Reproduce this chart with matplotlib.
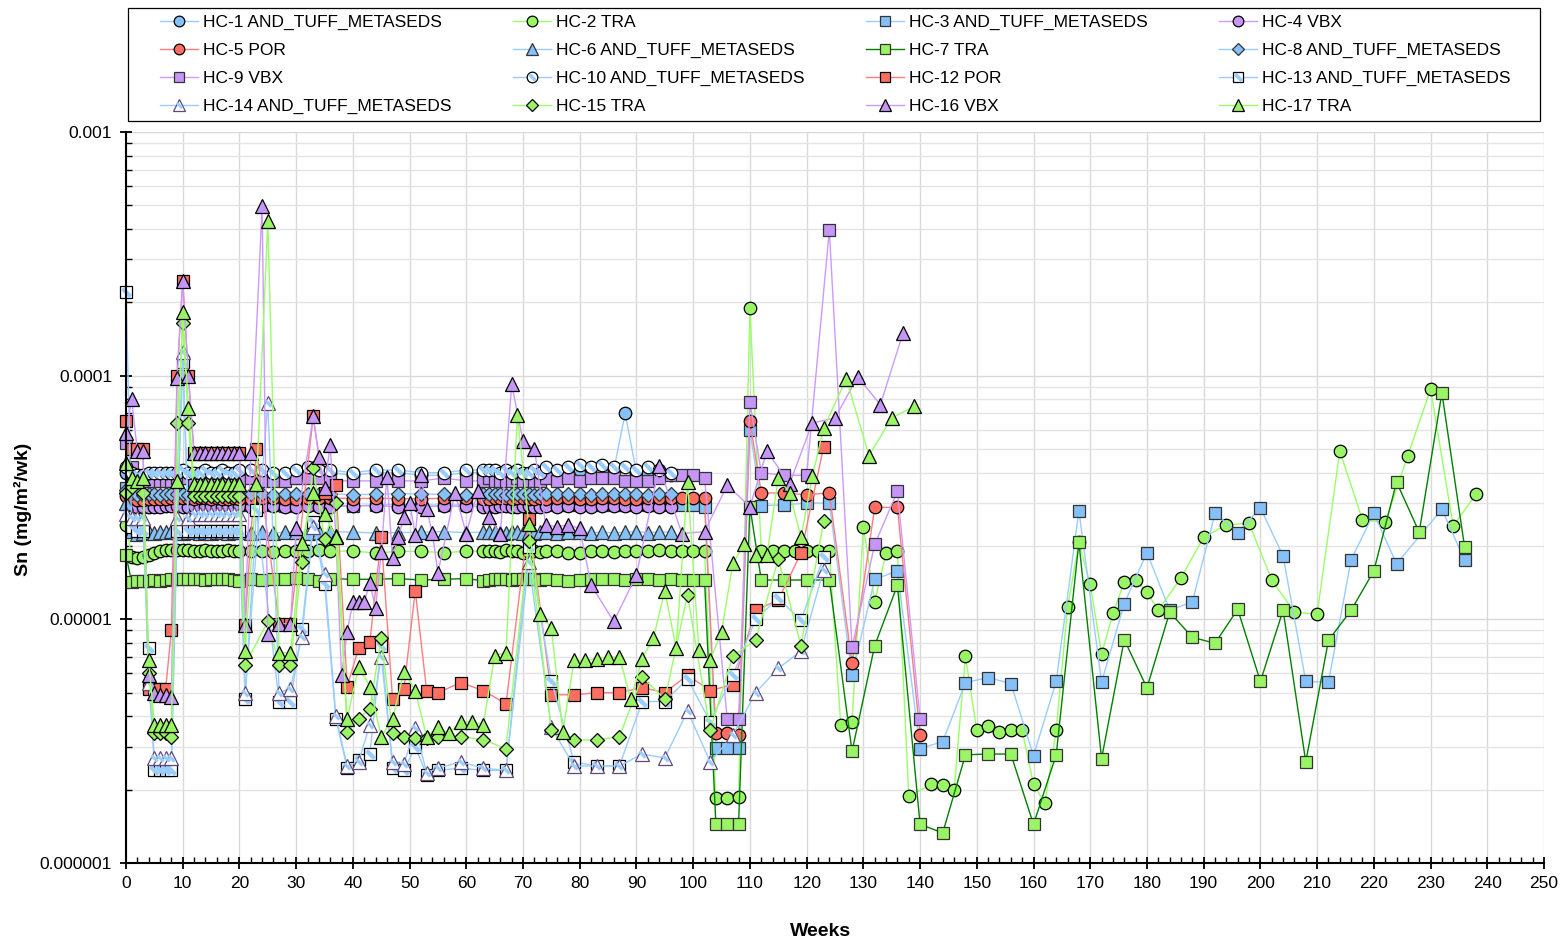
import numpy as np
import matplotlib
matplotlib.use('Agg')
import matplotlib.pyplot as plt
from matplotlib.path import Path
from matplotlib.patches import Rectangle
from matplotlib.ticker import LogLocator, NullFormatter, FuncFormatter, MultipleLocator

plt.rcParams['font.family'] = ['Liberation Sans', 'DejaVu Sans']

# ---- data (Sn flux, in units of 1e-6 mg/m2/wk) ----
weeks_early = [0, 1, 2, 3, 4, 5, 6, 7, 8, 9, 10, 11, 12, 13, 14, 15, 16, 17, 18, 19, 20,
               22, 24, 26, 28, 30, 32, 34, 36, 40, 44, 48, 52, 56, 60,
               63, 64, 65, 66, 67, 68, 69, 70, 71, 72, 73, 74,
               76, 78, 80, 82, 84, 86, 88, 90, 92, 94, 96]

hc1 = [40, 39, 39, 38, 39, 39, 39, 39, 39, 40, 40, 39, 39, 40, 40, 39, 40, 40, 39, 40,
       40, 40, 40, 39, 39, 40, 41, 40, 40, 39, 40, 40, 39, 39, 40, 40, 40, 40, 39, 40,
       39, 40, 39, 39, 40, 39, 41, 39, 40, 41, 41, 41, 41, 70, 40, 40, 40, 39]
hc10 = [42, 40, 39, 39, 40, 40, 40, 40, 40, 40, 41, 40, 40, 40, 41, 40, 40, 41, 40, 40,
        41, 41, 41, 40, 40, 41, 42, 41, 41, 40, 41, 41, 40, 40, 41, 41, 41, 41, 40, 41,
        40, 41, 40, 40, 41, 40, 42, 41, 42, 43, 42, 43, 42, 42, 41, 42, 41, 40]
hc4 = [33, 29.5, 29, 29, 29, 29, 29, 29.2, 29.3, 29.2, 29, 29, 29.2, 29, 29, 29.1, 29, 29, 29.2, 29,
       29.1, 29, 29.2, 29.3, 29, 29, 29.1, 29, 29, 29.2, 29.3, 29, 29, 29.2, 29.1, 29, 29, 29, 29.2, 29.3,
       29, 29, 29.1, 29.2, 29, 29, 29.1, 29, 29.2, 29, 29, 29.1, 29.3, 29.1, 29, 29.2, 29, 29]
hc6 = [30, 23, 22.5, 22.6, 22.8, 22.7, 22.8, 22.9, 23, 22.8, 22.7, 22.8, 22.9, 22.7, 22.8, 22.6, 22.8, 22.9, 22.7, 22.8,
       22.9, 22.7, 22.8, 22.6, 22.8, 22.9, 22.7, 22.8, 22.9, 22.8, 22.6, 22.7, 22.8, 22.9, 22.7, 22.8, 22.9, 22.8, 22.7, 22.6,
       22.8, 22.9, 22.7, 22.8, 22.6, 22.8, 22.9, 22.7, 22.8, 22.9, 22.7, 22.8, 22.6, 22.8, 22.9, 22.7, 22.8, 22.8]
hc8 = [34, 33, 32.5, 32.4, 32.6, 32.7, 32.5, 32.6, 32.8, 32.7, 32.6, 32.5, 32.6, 32.7, 32.8, 32.6, 32.5, 32.7, 32.6, 32.8,
       32.7, 32.6, 32.8, 32.5, 32.6, 32.7, 32.6, 32.8, 32.7, 32.5, 32.6, 32.8, 32.7, 32.6, 32.5, 32.7, 32.8, 32.6, 32.7, 32.5,
       32.6, 32.8, 32.7, 32.6, 32.5, 32.7, 32.6, 32.8, 32.7, 32.6, 32.5, 32.7, 32.8, 32.6, 32.7, 32.5, 32.6, 32.7]

# series that carry on past week 96
hc2 = [24.4, 18.0, 17.8, 18.1, 18.3, 18.7, 19.0, 19.2, 19.2, 19.3, 19.3, 19.2, 19.1, 19.1, 19.2, 19.1, 19.0, 19.1, 19.2, 19.1,
       19.0, 19.1, 19.0, 18.9, 19.0, 19.1, 19.0, 19.2, 19.0, 19.1, 18.7, 19.0, 19.0, 18.8, 19.0, 19.1, 19.0, 19.0, 18.9, 19.2,
       19.0, 19.1, 18.8, 18.9, 19.0, 18.9, 19.1, 19.0, 18.7, 18.8, 19.1, 19.0, 18.9, 19.0, 19.1, 19.0, 19.2, 19.0]
hc2_late_weeks = [98, 100, 102, 104, 106, 108, 110, 112, 114, 116, 118, 120, 122, 124, 126, 128, 130, 132, 134, 136, 138,
                  142, 144, 146, 148, 150, 152, 154, 156, 158, 160, 162, 164, 166, 168, 170, 172, 174, 176, 178, 180, 182,
                  186, 190, 194, 198, 202, 206, 210, 214, 218, 222, 226, 230, 234, 238]
hc2_late = [19, 19, 19, 1.85, 1.85, 1.87, 190, 19, 19, 19, 19, 19, 19, 19, 3.7, 3.8, 24, 11.8, 18.7, 19, 1.88,
            2.1, 2.08, 2.0, 7.06, 3.5, 3.65, 3.45, 3.5, 3.5, 2.1, 1.76, 3.5, 11.2, 20.7, 13.9, 7.2, 10.6, 14.2, 14.5, 12.9, 10.9,
            14.8, 21.7, 24.4, 24.8, 14.5, 10.7, 10.5, 49, 25.6, 25, 47, 88, 24.1, 32.7]

hc3 = [34.5, 29.5, 29.2, 29.0, 29.3, 29.5, 29.4, 29.5, 29.6, 29.5, 29.4, 29.5, 29.3, 29.5, 29.6, 29.5, 29.4, 29.5, 29.6, 29.5,
       29.4, 29.5, 29.6, 29.5, 29.3, 29.5, 29.6, 29.4, 29.5, 29.2, 29.5, 29.6, 29.5, 29.4, 29.5, 29.6, 29.5, 29.4, 29.5, 29.6,
       29.5, 29.3, 29.5, 29.6, 29.4, 29.5, 29.6, 29.5, 29.5, 29.4, 29.6, 29.5, 29.5, 29.4, 29.6, 29.5, 29.5, 29.6]
hc3_late_weeks = [98, 100, 102, 104, 106, 108, 110, 112, 116, 120, 124, 128, 132, 136, 140, 144, 148, 152, 156, 160,
                  164, 168, 172, 176, 180, 184, 188, 192, 196, 200, 204, 208, 212, 216, 220, 224, 232, 236]
hc3_late = [29.5, 29.5, 29, 2.96, 2.96, 2.96, 60, 29.3, 29.5, 30, 30, 5.9, 14.6, 15.8, 2.95, 3.15, 5.5, 5.77, 5.45, 2.76,
            5.56, 27.9, 5.52, 11.6, 18.8, 10.9, 11.8, 27.2, 22.7, 28.7, 18.2, 5.57, 5.52, 17.6, 27.2, 16.9, 28.3, 17.5]

hc5 = [32, 31.5, 31, 31, 31.2, 31.3, 31.2, 31.3, 31.4, 31.5, 31.6, 31.5, 31.3, 31.4, 31.5, 31.3, 31.4, 31.2, 31.3, 31.4,
       31.2, 31.3, 31.5, 31.4, 31.2, 31.3, 31.4, 31.6, 31.5, 31.3, 31.4, 31.3, 31.2, 31.4, 31.5, 31.3, 31.2, 31.4, 31.6, 31.5,
       31.3, 31.4, 31.5, 31.3, 31.2, 31.4, 31.3, 31.5, 31.4, 31.2, 31.3, 31.4, 31.6, 31.3, 31.2, 31.4, 31.5, 31.4]
hc5_late_weeks = [98, 100, 102, 104, 106, 108, 110, 112, 116, 120, 124, 128, 132, 136, 140]
hc5_late = [31.5, 31.5, 31.5, 3.4, 3.4, 3.35, 65, 33, 33, 32.5, 33, 6.6, 28.8, 28.8, 3.34]

hc7 = [18.3, 14.2, 14.3, 14.3, 14.4, 14.5, 14.4, 14.5, 14.6, 14.7, 14.7, 14.6, 14.7, 14.6, 14.5, 14.6, 14.7, 14.6, 14.6, 14.5,
       14.4, 14.6, 14.5, 14.7, 14.6, 14.8, 14.6, 14.4, 14.7, 14.6, 14.6, 14.7, 14.5, 14.6, 14.7, 14.4, 14.5, 14.6, 14.7, 14.6,
       14.5, 14.6, 14.6, 14.7, 14.6, 14.5, 14.6, 14.5, 14.4, 14.5, 14.6, 14.7, 14.6, 14.5, 14.6, 14.6, 14.5, 14.6]
hc7_late_weeks = [98, 100, 102, 104, 106, 108, 110, 112, 116, 120, 124, 128, 132, 136, 140, 144, 148, 152, 156, 160,
                  164, 168, 172, 176, 180, 184, 188, 192, 196, 200, 204, 208, 212, 216, 220, 224, 228, 232, 236]
hc7_late = [14.5, 14.5, 14.5, 1.44, 1.44, 1.44, 29, 14.5, 14.5, 14.5, 14.5, 2.87, 7.8, 13.8, 1.44, 1.33, 2.78, 2.8, 2.8, 1.44,
            2.78, 20.7, 2.68, 8.26, 5.23, 10.7, 8.44, 7.97, 11, 5.56, 10.9, 2.6, 8.2, 10.9, 15.8, 36.6, 22.8, 85, 19.8]

hc9 = [53, 42, 39, 38, 37, 37, 37, 37, 37, 38, 38, 38, 37, 37, 37, 37, 38, 37, 37, 37,
       37, 38, 37, 37, 37, 38, 38, 38, 37, 37, 37, 37, 37, 38, 37, 37, 38, 37, 37, 37,
       37, 38, 37, 37, 37, 37, 38, 37, 38, 37, 38, 38, 38, 37, 37, 37, 38, 39]
hc9_late_weeks = [98, 100, 102, 106, 108, 110, 112, 116, 120, 124, 128, 132, 136, 140]
hc9_late = [39, 39, 38, 3.9, 3.9, 78, 40, 39, 39, 396, 7.7, 20.3, 33.5, 3.9]

# irregular series
weeks_12 = [0, 1, 2, 3, 4, 5, 6, 7, 8, 9, 10, 11, 12, 13, 14, 15, 16, 17, 18, 19, 20, 21, 23, 27, 29,
            33, 35, 37, 39, 41, 43, 45, 47, 49, 51, 53, 55, 59, 63, 67, 71, 75, 79, 83, 87, 91, 95, 99,
            103, 107, 111, 115, 119, 123]
hc12 = [65, 50, 50, 50, 5.2, 5.2, 5.2, 5.2, 9.0, 100, 245, 100, 48, 48, 48, 48, 48, 48, 48, 48, 48, 9.5, 50, 9.6, 9.6,
        68, 33, 35.5, 5.3, 7.6, 8.1, 21.7, 4.7, 5.2, 13.1, 5.1, 5.0, 5.5, 5.1, 4.5, 25.8, 4.9, 4.9, 5.0, 5.0, 5.25, 5.0, 5.9,
        5.1, 5.4, 10.9, 12, 18.7, 51]

weeks_13 = [0, 1, 2, 3, 4, 5, 6, 7, 8, 9, 10, 11, 12, 13, 14, 15, 16, 17, 18, 19, 20, 21, 23, 27, 29,
            31, 33, 35, 37, 39, 41, 43, 45, 47, 49, 51, 53, 55, 59, 63, 67, 71, 75, 79, 83, 87, 91, 95, 99,
            103, 107, 111, 115, 119, 123]
hc13 = [220, 24, 23, 23, 7.6, 2.4, 2.4, 2.4, 2.4, 23, 114, 23, 23, 23, 23, 23, 23, 23, 23, 23, 23, 4.7, 28, 4.6, 4.6,
        9.1, 25, 14, 3.9, 2.45, 2.65, 2.8, 7.8, 2.45, 2.4, 3.0, 2.3, 2.4, 2.45, 2.4, 2.4, 19.9, 5.6, 2.6, 2.5, 2.5, 4.6, 4.6, 5.7,
        3.8, 5.9, 10, 12.2, 9.9, 18]

weeks_14 = [0, 1, 2, 3, 4, 5, 6, 7, 8, 9, 10, 11, 12, 13, 14, 15, 16, 17, 18, 19, 20, 21, 25, 27, 29,
            31, 33, 35, 37, 39, 41, 43, 45, 47, 49, 51, 53, 55, 59, 63, 67, 71, 75, 79, 83, 87, 91, 95, 99,
            103, 107, 111, 115, 119, 123]
hc14 = [27, 26, 26, 26, 5.5, 2.7, 2.7, 2.7, 2.7, 26, 125, 26, 27, 27, 27, 27, 27, 27, 27, 27, 27, 5.0, 77, 5.0, 5.2,
        8.5, 24, 15.4, 4.0, 2.5, 2.6, 3.7, 7.0, 2.6, 2.55, 3.57, 2.35, 2.45, 2.6, 2.45, 2.4, 17.2, 3.6, 2.5, 2.5, 2.5, 2.8, 2.7, 4.2,
        2.6, 3.35, 5.0, 6.3, 7.4, 16]

weeks_15 = [0, 1, 3, 4, 5, 6, 7, 8, 9, 10, 11, 12, 13, 14, 15, 16, 17, 18, 19, 20, 21, 25, 27, 29,
            31, 33, 35, 37, 39, 41, 43, 45, 47, 49, 51, 53, 55, 59, 63, 67, 71, 75, 79, 83, 87, 91, 95, 99,
            103, 107, 111, 115, 119, 123]
hc15 = [33, 35, 33, 6.0, 3.4, 3.4, 3.4, 3.3, 64, 164, 64, 32, 32, 32, 32, 32, 32, 32, 32, 32, 6.5, 9.8, 6.5, 6.5,
        17.2, 41.7, 21.3, 30, 3.45, 3.9, 4.3, 8.4, 3.4, 3.3, 3.25, 3.25, 3.3, 3.3, 3.2, 2.95, 20.9, 3.5, 3.2, 3.2, 3.3, 5.8, 4.7, 12.6,
        3.5, 7.1, 8.2, 17.7, 7.8, 25.3]

weeks_16 = [0, 1, 2, 3, 4, 5, 6, 7, 8, 9, 10, 11, 12, 13, 14, 15, 16, 17, 18, 19, 20, 21, 22, 24, 25, 27, 29, 30,
            33, 34, 35, 36, 37, 38, 39, 40, 41, 42, 43, 44, 45, 46, 47, 48, 49, 50, 51, 52, 53, 54, 55,
            58, 60, 62, 64, 66, 68, 70, 72, 74, 76, 78, 80, 82,
            86, 90, 94, 98, 102, 106, 110, 113, 117, 121, 125, 129, 133, 137]
hc16 = [58, 80, 49, 49, 5.9, 5.0, 4.9, 4.9, 4.8, 98, 245, 100, 48, 48, 48, 48, 48, 48, 48, 48,
        48, 9.5, 48, 495, 8.7, 9.6, 9.6, 23.6, 68, 46.5, 34.5, 52, 22, 5.9, 8.9, 11.8, 11.8, 11.8, 14.1, 11.1,
        18.9, 38.5, 17.8, 21.8, 26.3, 30, 22.2, 39, 28.5, 22.6, 15.5, 33, 22.5, 33.5, 26.3, 22.4, 92, 54, 50, 24.4,
        24, 24.4, 23.6, 13.8, 9.8, 15.2, 42.5, 22.5, 22.9, 35.5, 29, 49, 36, 64, 67, 99, 76, 150]

weeks_17 = [0, 1, 2, 3, 4, 5, 6, 7, 8, 9, 10, 11, 12, 13, 14, 15, 16, 17, 18, 19, 20, 21, 23, 25,
            27, 29, 31, 33, 35, 37, 39, 41, 43, 45, 47, 49, 51, 53, 55, 57, 59, 61, 63, 65, 67, 69, 71, 73, 75,
            77, 79, 81, 83, 85, 87, 89, 91, 93, 95, 97, 99, 101, 103, 105, 107, 109, 111, 113, 115, 117, 119,
            121, 123, 127, 131, 135, 139]
hc17 = [44, 38, 37, 38, 6.8, 3.7, 3.7, 3.7, 3.7, 37, 183, 74, 36, 36, 36, 36, 36, 36, 36, 36,
        36, 7.4, 36, 430, 7.3, 7.3, 20.5, 33, 27, 21.8, 3.9, 6.4, 5.3, 3.3, 3.9, 6.1, 5.1, 3.3, 3.6, 3.4,
        3.8, 3.8, 3.7, 7.1, 7.3, 69, 24.6, 10.5, 9.2, 3.45, 6.8, 6.8, 6.9, 7.0, 7.0, 4.7, 6.9, 8.4, 13.1, 7.6,
        36.7, 7.5, 6.8, 8.9, 17, 20.3, 18.4, 18.4, 38, 33, 21.7, 38.6, 61, 97, 47, 67, 75]

# ---- styling ----
blue_ln, blue_fc = '#99ccff', '#85c0f8'
green_ln, green_fc = '#99ff66', '#99f566'
purple_ln, purple_fc = '#cc99ff', '#c696f6'
red_ln, red_fc = '#ff7c80', '#ff6f61'
dkgreen = '#008000'

# diagonal stripe drawn inside the white markers
band = Path([(-0.206, 0.456), (0.456, -0.206), (0.206, -0.456), (-0.456, 0.206), (-0.206, 0.456)],
            [Path.MOVETO, Path.LINETO, Path.LINETO, Path.LINETO, Path.CLOSEPOLY])

series = [
    ('HC-1 AND_TUFF_METASEDS', weeks_early, hc1, 'o', 9, blue_ln, blue_fc, 'k', 0),
    ('HC-2 TRA', weeks_early + hc2_late_weeks, hc2 + hc2_late, 'o', 9, green_ln, green_fc, 'k', 0),
    ('HC-3 AND_TUFF_METASEDS', weeks_early + hc3_late_weeks, hc3 + hc3_late, 's', 8.5, blue_ln, blue_fc, '#333333', 0),
    ('HC-4 VBX', weeks_early, hc4, 'o', 9, purple_ln, purple_fc, 'k', 0),
    ('HC-5 POR', weeks_early + hc5_late_weeks, hc5 + hc5_late, 'o', 9, red_ln, red_fc, 'k', 0),
    ('HC-6 AND_TUFF_METASEDS', weeks_early, hc6, '^', 10, blue_ln, blue_fc, '#333333', 0),
    ('HC-7 TRA', weeks_early + hc7_late_weeks, hc7 + hc7_late, 's', 8.5, dkgreen, green_fc, '#333333', 0),
    ('HC-8 AND_TUFF_METASEDS', weeks_early, hc8, 'D', 6.7, blue_ln, blue_fc, '#333333', 0),
    ('HC-9 VBX', weeks_early + hc9_late_weeks, hc9 + hc9_late, 's', 8.5, purple_ln, purple_fc, '#333333', 0),
    ('HC-10 AND_TUFF_METASEDS', weeks_early, hc10, 'o', 9, blue_ln, 'white', 'k', 0.85),
    ('HC-12 POR', weeks_12, hc12, 's', 8.5, red_ln, red_fc, 'k', 0),
    ('HC-13 AND_TUFF_METASEDS', weeks_13, hc13, 's', 8.5, blue_ln, 'white', 'k', 0.95),
    ('HC-14 AND_TUFF_METASEDS', weeks_14, hc14, '^', 10, blue_ln, 'white', '#5f497a', 0.6),
    ('HC-15 TRA', weeks_15, hc15, 'D', 6.7, green_ln, green_fc, 'k', 0),
    ('HC-16 VBX', weeks_16, hc16, '^', 10, purple_ln, purple_fc, 'k', 0),
    ('HC-17 TRA', weeks_17, hc17, '^', 10, green_ln, green_fc, 'k', 0),
]

fig = plt.figure(figsize=(15.64, 9.42), dpi=100)
ax = fig.add_axes([126 / 1564, 1 - 863 / 942, 1418 / 1564, 731 / 942])

handles = []
for label, wk, vals, mk, ms, lc, fc, ec, bscale in series:
    y = np.array(vals) * 1e-6
    ln, = ax.plot(wk, y, color=lc, lw=1.0, marker=mk, ms=ms, mfc=fc, mec=ec, mew=0.9,
                  label=label, clip_on=False)
    if bscale:
        bd, = ax.plot(wk, y, ls='none', marker=band, ms=ms * bscale, mfc=blue_ln, mec='none',
                      clip_on=False)
        handles.append((ln, bd))
    else:
        handles.append(ln)

ax.set_yscale('log')
ax.set_xlim(0, 250)
ax.set_ylim(1e-6, 1e-3)
ax.xaxis.set_major_locator(MultipleLocator(10))
ax.xaxis.set_minor_locator(MultipleLocator(2))
ax.yaxis.set_major_locator(LogLocator(base=10))
ax.yaxis.set_minor_locator(LogLocator(base=10, subs=range(2, 10)))
ax.yaxis.set_major_formatter(FuncFormatter(lambda v, p: ('%.6f' % v).rstrip('0')))
ax.yaxis.set_minor_formatter(NullFormatter())

ax.grid(which='major', color='#d9d9d9', lw=1.0)
ax.grid(which='minor', axis='y', color='#e4e4e4', lw=1.0)
ax.set_axisbelow(True)
for s in ['top', 'right']:
    ax.spines[s].set_visible(False)
for s in ['left', 'bottom']:
    ax.spines[s].set_linewidth(1.5)
ax.tick_params(which='major', direction='inout', length=8, width=1.3, labelsize=12.5, pad=5)
ax.tick_params(which='minor', direction='in', length=4, width=1.0)
ax.tick_params(axis='y', which='major', pad=6)

ax.set_xlabel('Weeks', fontsize=14, fontweight='bold')
ax.xaxis.set_label_coords(0.49, -0.082)
ax.set_ylabel('Sn (mg/m\u00b2/wk)', fontsize=14, fontweight='bold')
ax.yaxis.set_label_coords(-0.066, 0.484)

# legend: four columns filled row by row, with a plain frame drawn separately
col_x = [160, 513, 866, 1219]
for c in range(4):
    idx = [c, c + 4, c + 8, c + 12]
    fig.legend([handles[i] for i in idx], [series[i][0] for i in idx],
               loc='upper left', bbox_to_anchor=(col_x[c] / 1564, 1 - 15 / 942),
               frameon=False, borderpad=0, borderaxespad=0, handlelength=2.2,
               handletextpad=0.3, labelspacing=0.74, fontsize=12.5, markerscale=0.85)
fig.add_artist(Rectangle((128 / 1564, 1 - 121 / 942), 1412 / 1564, 113 / 942,
                         transform=fig.transFigure, fill=False, ec='black', lw=0.9))

fig.savefig('out.png', dpi=100)
